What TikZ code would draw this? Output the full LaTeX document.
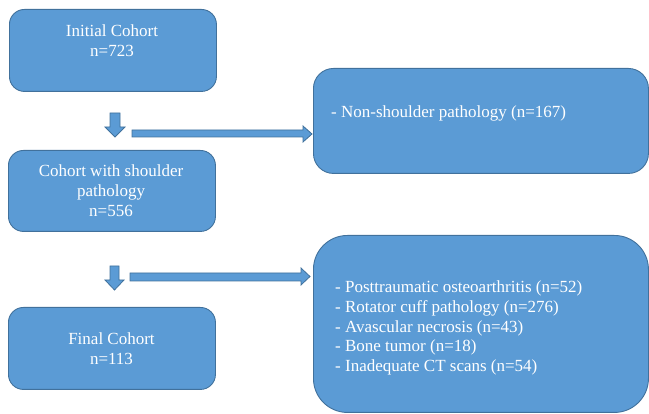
\documentclass[tikz,border=0pt]{standalone}
\usepackage{fontspec}
\setmainfont{Liberation Serif}
\definecolor{boxblue}{HTML}{5B9BD5}
\definecolor{edgeblue}{HTML}{41719C}
\begin{document}
\begin{tikzpicture}[x=1pt,y=-1pt,
  box/.style={draw=edgeblue, fill=boxblue, line width=0.9pt, inner sep=0pt, anchor=north west},
  blockarrow/.style={draw=edgeblue, fill=boxblue, line width=0.8pt, line join=miter},
  txt/.style={text=white, font=\fontsize{17}{20}\selectfont, inner sep=0pt, anchor=base},
  ltxt/.style={text=white, font=\fontsize{17}{20}\selectfont, inner sep=0pt, anchor=base west}]
\useasboundingbox (0,0) rectangle (649,414);

% boxes
\node[box, rounded corners=15pt, minimum width=207pt, minimum height=82pt] (initial) at (9,9) {};
\node[box, rounded corners=15pt, minimum width=207pt, minimum height=81pt] (shoulder) at (8,150) {};
\node[box, rounded corners=15pt, minimum width=207pt, minimum height=82pt] (final) at (8,307) {};
\node[box, rounded corners=20pt, minimum width=335pt, minimum height=105pt] (excl1) at (313,68) {};
\node[box, rounded corners=34pt, minimum width=335pt, minimum height=177pt] (excl2) at (313,235) {};

% texts
\node[txt] (t1a) at (112,37) {Initial Cohort};
\node[txt] (t1b) at (112,57) {n=723};
\node[txt] (t2a) at (111,177) {Cohort with shoulder};
\node[txt] (t2b) at (111,197) {pathology};
\node[txt] (t2c) at (111,217) {n=556};
\node[txt] (t3a) at (111.5,345) {Final Cohort};
\node[txt] (t3b) at (111.5,365) {n=113};
\node[ltxt] (e1) at (331,118) {- Non-shoulder pathology (n=167)};
\node[ltxt] (e2a) at (335,293) {- Posttraumatic osteoarthritis (n=52)};
\node[ltxt] (e2b) at (335,313) {- Rotator cuff pathology (n=276)};
\node[ltxt] (e2c) at (335,333) {- Avascular necrosis (n=43)};
\node[ltxt] (e2d) at (335,352) {- Bone tumor (n=18)};
\node[ltxt] (e2e) at (335,372) {- Inadequate CT scans (n=54)};

% block arrows
\draw[blockarrow] (110,113) -- (120,113) -- (120,127) -- (125,127) -- (115,137) -- (105,127) -- (110,127) -- cycle;
\draw[blockarrow] (132,130) -- (303,130) -- (303,126) -- (312,134) -- (303,142) -- (303,137) -- (132,137) -- cycle;
\draw[blockarrow] (110,266) -- (119,266) -- (119,280) -- (124,280) -- (114.5,290) -- (105,280) -- (110,280) -- cycle;
\draw[blockarrow] (130,273) -- (301,273) -- (301,268) -- (310,276.5) -- (301,285) -- (301,281) -- (130,281) -- cycle;
\end{tikzpicture}
\end{document}
